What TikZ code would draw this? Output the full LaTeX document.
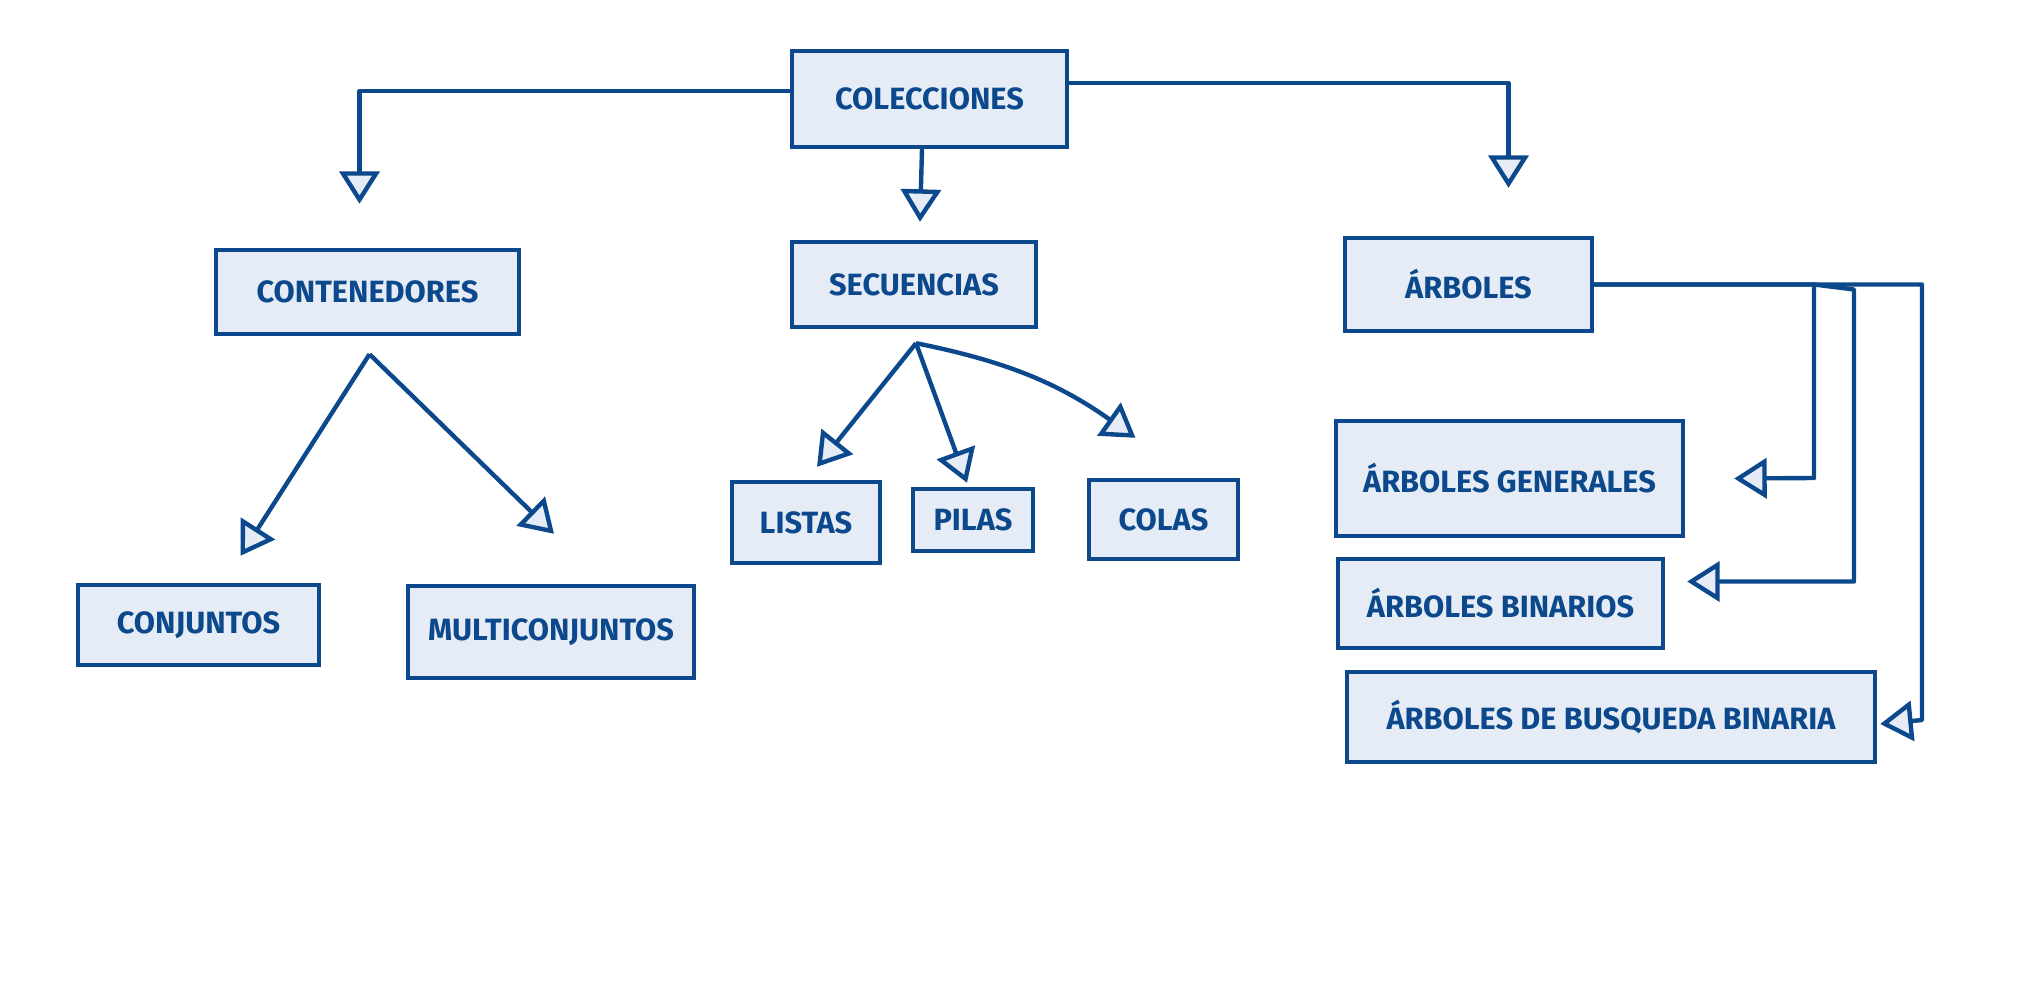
\documentclass[tikz,border=0pt]{standalone}
\usepackage{fontspec}
\setmainfont{Fira Sans}
\usetikzlibrary{arrows.meta,calc}
\definecolor{inkblue}{RGB}{12,72,140}
\definecolor{boxfill}{RGB}{230,236,245}
\begin{document}
\begin{tikzpicture}[
  x=0.2mm, y=-0.2mm,
  box/.style={rectangle, draw=inkblue, fill=boxfill, line width=2.5pt, inner sep=0pt, text=inkblue, font=\fontsize{17.5}{20}\selectfont\bfseries},
  link/.style={draw=inkblue, line width=2.5pt, line join=round, -{Triangle[open, length=6.5mm, width=8mm, fill=boxfill]}}
]
  \useasboundingbox (0,0) rectangle (2043,1000);
  % top level
  \node[box, minimum width=55mm, minimum height=19.2mm] (col) at (929.5,99) {COLECCIONES};
  \node[box, minimum width=60.6mm, minimum height=16.8mm] (cont) at (367.5,292) {CONTENEDORES};
  \node[box, minimum width=48.8mm, minimum height=17mm] (sec) at (914,284.5) {SECUENCIAS};
  \node[box, minimum width=49.4mm, minimum height=18.6mm] (arb) at (1468.5,284.5) {ÁRBOLES};
  % leaves
  \node[box, minimum width=48.2mm, minimum height=16mm] (conj) at (198.5,625) {CONJUNTOS};
  \node[box, minimum width=57.2mm, minimum height=18.4mm] (multi) at (551,632) {MULTICONJUNTOS};
  \node[box, minimum width=29.6mm, minimum height=16.2mm] (list) at (806,522.5) {LISTAS};
  \node[box, minimum width=24mm, minimum height=12.4mm] (pila) at (973,520) {PILAS};
  \node[box, minimum width=29.8mm, minimum height=15.8mm] (cola) at (1163.5,519.5) {COLAS};
  \node[box, minimum width=69.4mm, minimum height=23mm] (gen) at (1509.5,478.5) {ÁRBOLES GENERALES};
  \node[box, minimum width=65mm, minimum height=17.8mm] (bin) at (1500.5,603.5) {ÁRBOLES BINARIOS};
  \node[box, minimum width=105.6mm, minimum height=18mm] (bbb) at (1611,717) {ÁRBOLES DE BUSQUEDA BINARIA};

  % arrow ends
  \coordinate (t1) at ($(cont.north)+(-8,-44)$);
  \coordinate (t2) at ($(sec.north)+(6,-18)$);
  \coordinate (t3) at ($(arb.north)+(40,-48)$);
  \coordinate (cfork) at ($(cont.south)+(2,18)$);
  \coordinate (t4) at ($(conj.north)+(42,-27)$);
  \coordinate (t5) at ($(multi.north)+(3,-50)$);
  \coordinate (sfork) at ($(sec.south)+(2,14)$);
  \coordinate (t6) at ($(list.north)+(11,-13)$);
  \coordinate (t7) at ($(pila.north)+(-6,-4)$);
  \coordinate (t8) at ($(cola.north)+(-28,-40)$);
  \coordinate (k1) at (1814,478);
  \coordinate (t9) at ($(gen.east)+(49,0)$);
  \coordinate (t10) at ($(bin.east)+(22,-22)$);
  \coordinate (k4) at (1922,720);
  \coordinate (t11) at ($(bbb.east)+(3,7)$);

  \draw[link] ([yshift=4.5pt]col.west) -| (t1);
  \draw[link] ([xshift=-1.5mm]col.south) -- (t2);
  \draw[link] ([yshift=9pt]col.east) -| (t3);
  \draw[link] (cfork) -- (t4);
  \draw[link] (cfork) -- (t5);
  \draw[link] (sfork) -- (t6);
  \draw[link] (sfork) -- (t7);
  \draw[link] (sfork) to[bend left=12] (t8);
  \draw[link] (arb.east) -| (k1) -- (t9);
  \draw[link] (k1 |- arb.east) -- ++(40,5) |- (t10);
  \draw[link] (arb.east) -| (k4) -- (t11);
\end{tikzpicture}
\end{document}
